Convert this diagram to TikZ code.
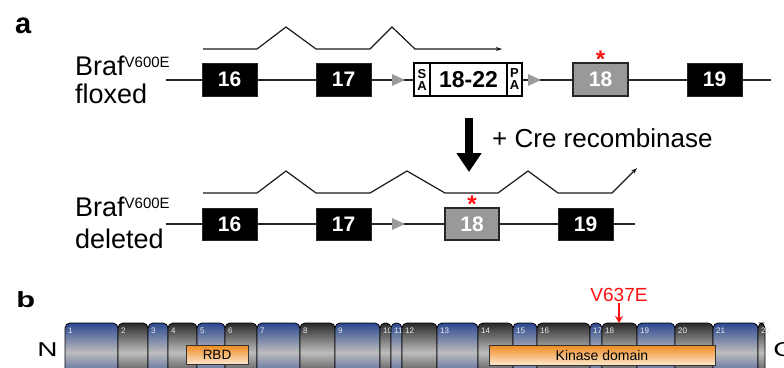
\documentclass[tikz,border=0pt]{standalone}
\usepackage{fontspec}
\setmainfont{Liberation Sans}
\usetikzlibrary{arrows.meta}
\definecolor{exgray}{HTML}{999999}
\definecolor{tri}{HTML}{9A9A9A}
\definecolor{segblue}{HTML}{2B4890}
\definecolor{segblack}{HTML}{2A2A2A}
\definecolor{segmid}{HTML}{BDBDBD}
\definecolor{domtop}{HTML}{EE8A1E}
\definecolor{dombot}{HTML}{FDE7CC}
\definecolor{mutred}{HTML}{FF1010}
\tikzset{
  exon/.style={draw=black!85, fill=black, line width=1pt, inner sep=0pt,
    minimum width=55pt, minimum height=33pt, text=white,
    font=\fontsize{21}{21}\selectfont\bfseries},
  mutexon/.style={exon, fill=exgray, draw=black!85, line width=1.6pt},
  cassette/.style={draw=black, fill=white, line width=1.4pt, inner sep=0pt,
    minimum height=33pt, text=black},
  smalltag/.style={cassette, align=center,
    font=\fontsize{13}{12}\selectfont\bfseries},
  gene/.style={line width=1.8pt, black!85},
  splice/.style={line width=1.2pt, black!90},
  loxp/.style={fill=tri, draw=none},
  lab/.style={anchor=base west, inner sep=0pt, font=\fontsize{27}{27}\selectfont},
  panel/.style={anchor=base west, inner sep=0pt, font=\fontsize{29}{29}\selectfont\bfseries},
  star/.style={anchor=base, inner sep=0pt, text=mutred, font=\fontsize{24}{24}\selectfont\bfseries},
  segnum/.style={anchor=base west, inner sep=0pt, text=white!85!gray, font=\fontsize{8}{8}\selectfont},
  dombox/.style={draw=black!80, line width=0.8pt, top color=domtop, bottom color=dombot},
  wide/.style={transform shape, xscale=1.4},
}
\begin{document}
\begin{tikzpicture}[x=1pt,y=-1pt]
\useasboundingbox (0,0) rectangle (784,367);
\clip (0,0) rectangle (784,367);

% ---------------- panel a ----------------
\node[panel] (pa) at (15,33) {a};

% floxed allele
\node[lab] (l1) at (75,75) {Braf\raisebox{8pt}{\fontsize{15}{15}\selectfont V600E}};
\node[lab] (l2) at (75,103) {floxed};

\coordinate (fs) at (166,80);
\coordinate (fe) at (771,80);
\draw[gene] (fs) -- (fe);
\node[exon] (f16) at (229.5,79.5) {16};
\node[exon] (f17) at (343.5,79.5) {17};
\fill[loxp] (392,74) -- (405,80) -- (392,86) -- cycle;
\node[smalltag, minimum width=16pt] (fsa) at (422,79.5) {S\\A};
\node[cassette, minimum width=77pt, font=\fontsize{23}{23}\selectfont\bfseries] (fcas) at (468.5,79.5) {18-22};
\node[smalltag, minimum width=15pt] (fpa) at (514.5,79.5) {P\\A};
\fill[loxp] (528,74) -- (541,80) -- (528,86) -- cycle;
\node[mutexon] (f18) at (600.5,79.5) {18};
\node[star] (fst) at (600.5,67) {*};
\node[exon] (f19) at (714.5,79.5) {19};

\draw[splice, -{Stealth[length=6pt,width=4pt]}]
  (203,49) -- (257,49) -- (286,27) -- (316,49) -- (370,49) -- (392,27)
  -- (415,49) -- (502,49);

% recombination arrow
\coordinate (ca) at (469,118);
\coordinate (cb) at (469,172);
\draw[line width=8pt, -{Triangle[width=24pt,length=19pt]}] (ca) -- (cb);
\node[lab, font=\fontsize{26}{26}\selectfont] (cre) at (492,147) {+ Cre recombinase};

% deleted allele
\node[lab] (l3) at (75,216) {Braf\raisebox{8pt}{\fontsize{15}{15}\selectfont V600E}};
\node[lab] (l4) at (75,248) {deleted};

\coordinate (ds) at (166,224);
\coordinate (de) at (635,224);
\draw[gene] (ds) -- (de);
\node[exon, minimum height=32pt] (d16) at (229.5,224) {16};
\node[exon, minimum height=32pt] (d17) at (343.5,224) {17};
\fill[loxp] (392,218) -- (405,224) -- (392,230) -- cycle;
\node[mutexon, minimum height=32pt, minimum width=54pt] (d18) at (472,224) {18};
\node[star] (dst) at (472,212) {*};
\node[exon, minimum height=32pt] (d19) at (585.5,224) {19};

\draw[splice, -{Stealth[length=6pt,width=4pt]}]
  (203,193) -- (257,193) -- (286,171) -- (316,193) -- (370,193) -- (407,171)
  -- (445,193) -- (498,193) -- (528,171) -- (558,193) -- (612,193) -- (637,168);

% ---------------- panel b ----------------
\node[panel, wide, font=\fontsize{22}{22}\selectfont\bfseries] (pb) at (16,307) {b};
\node[lab, wide, font=\fontsize{20}{20}\selectfont] (nt) at (37,356) {N};
\node[lab, wide, font=\fontsize{20}{20}\selectfont] (ct) at (773,356) {C};

\foreach \xa/\xb/\k/\n in {65/118/blue/1, 118/148/black/2, 148/168/blue/3,
  168/197/black/4, 197/225/blue/5, 225/257/black/6, 257/300/blue/7,
  300/335/black/8, 335/380/blue/9, 380/391/black/10, 391/402/blue/11,
  402/437/black/12, 437/478/blue/13, 478/513/black/14, 513/537/blue/15,
  537/590/black/16, 590/602/blue/17, 602/637/black/18, 637/675/blue/19,
  675/713/black/20, 713/758/blue/21, 758/765/black/22}{
  \path[draw=black, line width=0.8pt, rounded corners=5pt,
        top color=seg\k, bottom color=seg\k, middle color=segmid]
    (\xa,382) rectangle (\xb,323);
  \node[segnum] at (\xa+3,333) {\n};
}

\node[dombox, minimum width=62pt, minimum height=19pt, inner sep=0pt,
  font=\fontsize{13.5}{13.5}\selectfont] (rbd) at (217,354.5) {RBD};
\node[dombox, minimum width=226pt, minimum height=20pt, inner sep=0pt,
  font=\fontsize{14}{14}\selectfont] (kin) at (602,355) {Kinase domain};

\node[anchor=base, inner sep=0pt, text=mutred, font=\fontsize{19}{19}\selectfont] (mut) at (619,301) {V637E};
\coordinate (mt) at (619,323);
\draw[mutred, line width=1.6pt, -{Stealth[length=7pt,width=8pt]}] ([yshift=-2pt]mut.south) -- (mt);
\end{tikzpicture}
\end{document}
